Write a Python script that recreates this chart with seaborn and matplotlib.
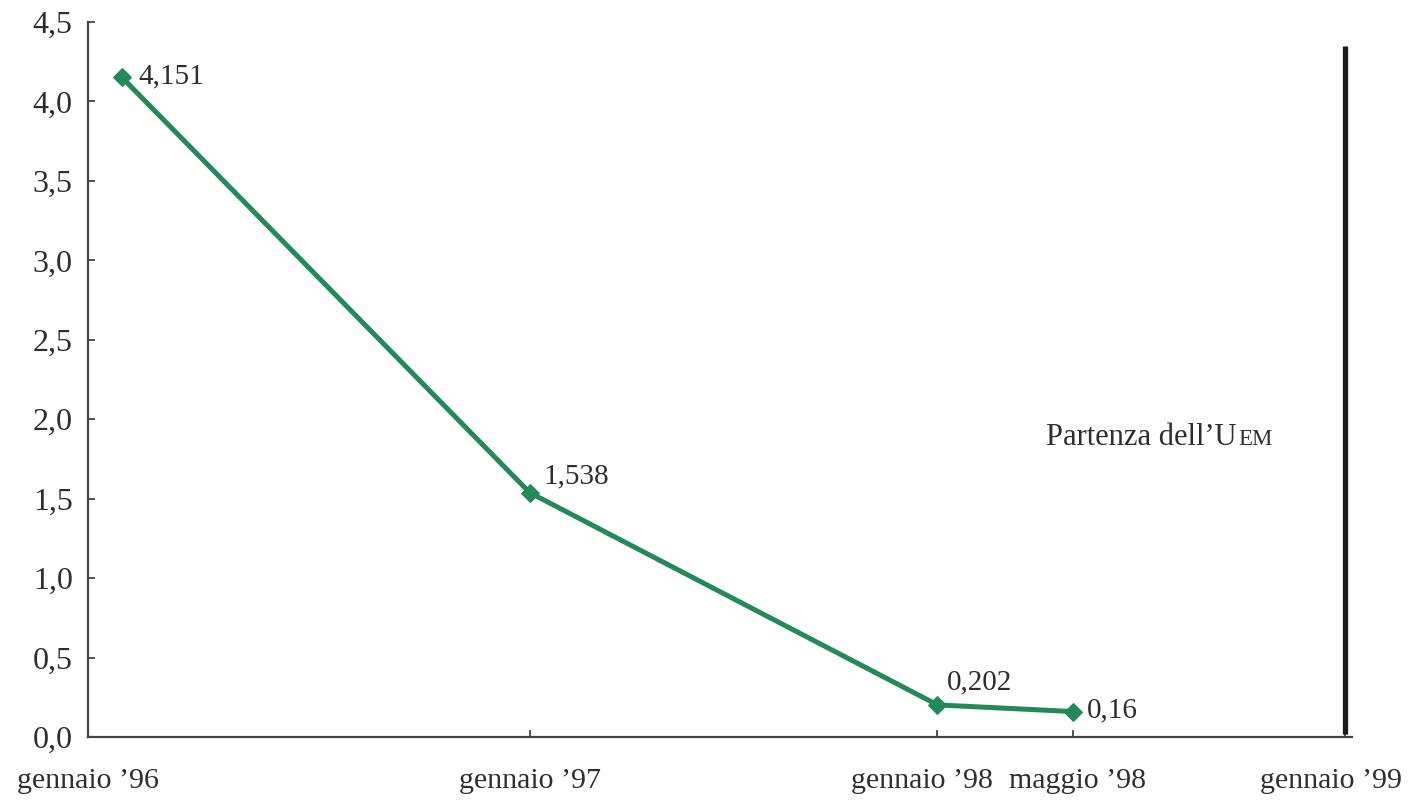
import matplotlib
matplotlib.use("Agg")
import matplotlib.pyplot as plt
from matplotlib.ticker import FuncFormatter, MultipleLocator
from matplotlib.transforms import ScaledTranslation
import seaborn as sns
import pandas as pd

# Months elapsed since January 1996 and the corresponding values
months = [0, 12, 24, 28]
values = [4.151, 1.538, 0.202, 0.16]
value_labels = ["4,151", "1,538", "0,202", "0,16"]

tick_months = [-1, 12, 24, 28, 36]
tick_labels = ["gennaio \u201996", "gennaio \u201997", "gennaio \u201998",
               "maggio \u201998", "gennaio \u201999"]

emu_start = 36
emu_label_main = "Partenza dell\u2019U"
emu_label_caps = "EM"

sns.set_style("ticks")
plt.rcParams["font.family"] = ["Liberation Serif", "DejaVu Serif"]

text_color = "#2e2e2e"
green = "#23895a"

fig = plt.figure(figsize=(14.16, 8.05), dpi=100)
ax = fig.add_axes([88 / 1416, 1 - 737 / 805, (1352 - 88) / 1416, (737 - 22) / 805])

df = pd.DataFrame({"mese": months, "valore": values})
sns.lineplot(data=df, x="mese", y="valore", ax=ax, color=green, linewidth=3.6,
             marker="D", markersize=9, markeredgecolor=green, markerfacecolor=green)

# value annotations next to each point
offsets = [(12, 1), (10, 12), (7, 16), (10, 1)]
for m, v, lab, off in zip(months, values, value_labels, offsets):
    ax.annotate(lab, (m, v), xytext=off, textcoords="offset points",
                ha="left", va="center", fontsize=21, color=text_color)

# start of EMU marker line
ax.plot([emu_start, emu_start], [0.02, 4.35], color="#1a1a1a", linewidth=3.8,
        solid_capstyle="butt")

t = ax.text(27.2, 1.84, emu_label_main, fontsize=22, color=text_color,
            ha="left", va="baseline")
fig.canvas.draw()
renderer = fig.canvas.get_renderer()
bb = t.get_window_extent(renderer=renderer)
# small caps continuation, set tight against the capital U
caps_trans = ax.transData + ScaledTranslation(-11 / 100, 0, fig.dpi_scale_trans)
x_end = ax.transData.inverted().transform((bb.x1, bb.y0))[0]
ax.text(x_end, 1.84, emu_label_caps, fontsize=16.5, color=text_color,
        ha="left", va="baseline", transform=caps_trans)

ax.set_xlim(-1, 36.2)
ax.set_ylim(0, 4.5)
ax.yaxis.set_major_locator(MultipleLocator(0.5))
ax.yaxis.set_major_formatter(FuncFormatter(lambda v, p: f"{v:.1f}".replace(".", ",")))
ax.set_xticks(tick_months)
ax.set_xticklabels(tick_labels)

ax.tick_params(axis="both", direction="in", length=5, width=1.3, colors="#444444",
               labelcolor=text_color)
ax.tick_params(axis="y", pad=11, labelsize=23)
ax.tick_params(axis="x", pad=22, labelsize=21.5)

# nudge the crowded January '98 and January '99 labels apart
label_shift = [0, 0, -16, 4, -14]
for lab, dx in zip(ax.get_xticklabels(), label_shift):
    lab.set_transform(lab.get_transform() + ScaledTranslation(dx / 100, 0, fig.dpi_scale_trans))

ax.set_xlabel("")
ax.set_ylabel("")
sns.despine(ax=ax)
for s in ["left", "bottom"]:
    ax.spines[s].set_color("#444444")
    ax.spines[s].set_linewidth(1.6)

fig.savefig("out.png", dpi=100, facecolor="white")
